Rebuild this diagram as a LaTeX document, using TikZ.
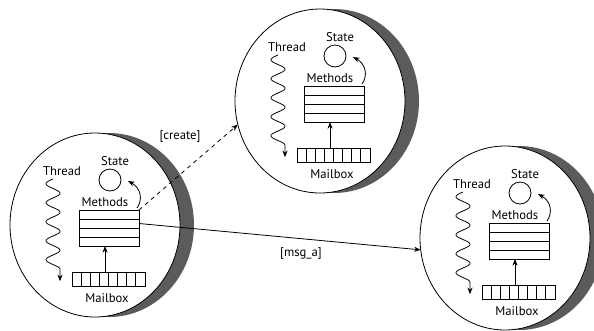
\documentclass[tikz,border=0pt]{standalone}
\usepackage{fontspec}
\setmainfont{PT Sans}
\usetikzlibrary{arrows.meta,shapes.geometric}

\definecolor{crescentgray}{HTML}{5B5B5D}

\tikzset{
  lbl/.style={font=\fontsize{9.5}{11}\selectfont, inner sep=0pt},
  arr/.style={-{Stealth[length=5pt,width=3.8pt]}},
  body/.style={draw, fill=white, ellipse, minimum width=127.5pt, minimum height=138pt, inner sep=0pt, outer sep=0pt},
  row/.style={draw, minimum width=45pt, minimum height=6.75pt, inner sep=0pt, outer sep=0pt},
  mailbox/.style={draw, minimum width=54.75pt, minimum height=10.5pt, inner sep=0pt, outer sep=0pt},
  statecircle/.style={draw, circle, minimum size=16.5pt, inner sep=0pt},
  actor/.pic={
    % shadow crescent behind the actor body
    \fill[crescentgray] (14,0) ellipse [x radius=63.75pt, y radius=69pt];
    \node[body] (-body) at (0,0) {};
    % thread of control
    \node[lbl] (-thread) at (-33,-54) {Thread};
    \draw[arr] plot[domain=0:4.75, samples=120, smooth] ({-42-7*sin(360*\x)}, {-46+19*\x}) -- ++(0,12);
    % state
    \node[lbl] (-statelbl) at (20,-64) {State};
    \node[statecircle] (-state) at (15,-45) {};
    % methods table
    \node[lbl] (-methodslbl) at (10,-23) {Methods};
    \node[row] (-r1) at (14,-10.5) {};
    \node[row] (-r2) at (14,-1.5) {};
    \node[row] (-r3) at (14,7.5) {};
    \node[row] (-r4) at (14,16.5) {};
    \draw[arr] (42,-17) .. controls (48,-25) and (46,-37) .. (33,-44);
    % mailbox
    \node[mailbox] (-mbox) at (13.5,54) {};
    \foreach \k in {1,...,7} \draw ({-23+9.125*\k},47) -- ({-23+9.125*\k},61);
    \node[lbl] (-mboxlbl) at (12,73) {Mailbox};
    \draw[arr] ([xshift=-2.6pt]-mbox.north) -- ([xshift=-2.6pt]-mbox.north |- -r4.south);
  }
}

\begin{document}
\begin{tikzpicture}[x=0.75pt, y=-0.75pt, line width=0.6pt]
  \useasboundingbox (0,0) rectangle (594,330);

  \pic (a1) at (95,225) {actor};
  \pic (a2) at (320,101) {actor};
  \pic (a3) at (505,238) {actor};

  % messages between actors
  \draw[arr, dashed] (a1-r1.north east) -- (a2-body.196);
  \draw[arr] (a1-r2.east) -- (a3-body.188);

  \node[lbl] (create) at (180,137) {[create]};
  \node[lbl] (msg) at (301,254) {[msg\_a]};
\end{tikzpicture}
\end{document}
